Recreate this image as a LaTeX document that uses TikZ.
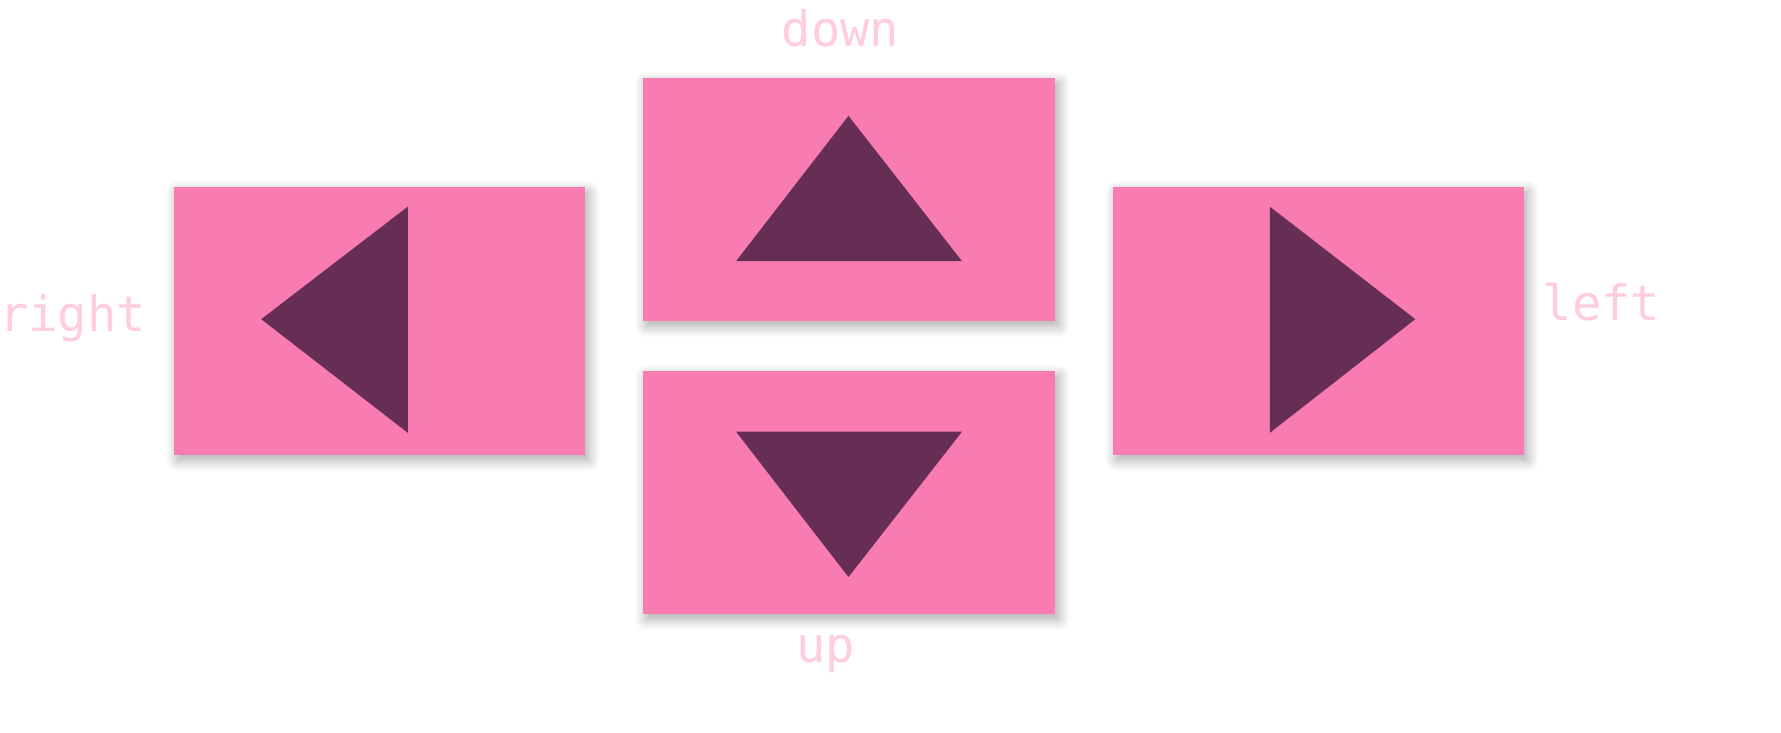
\documentclass[tikz,border=0pt]{standalone}
\usepackage{fontspec}
\setmonofont{DejaVu Sans Mono}
\usetikzlibrary{shadows.blur}
\definecolor{boxpink}{HTML}{F87BB2}
\definecolor{tripurple}{HTML}{672E55}
\definecolor{labelpink}{HTML}{FFCCE0}
\tikzset{
  padbox/.style={fill=boxpink, draw=none, inner sep=0pt,
    blur shadow={shadow xshift=3pt, shadow yshift=-4pt, shadow blur radius=10pt, shadow blur steps=12, shadow opacity=35}},
  arrowtri/.style={fill=tripurple, draw=none},
  padlabel/.style={text=labelpink, font=\fontsize{43}{43}\selectfont\ttfamily, inner sep=0pt, anchor=base}
}
\begin{document}
\begin{tikzpicture}[x=1pt,y=-1pt]
\useasboundingbox (0,0) rectangle (1568,644.5);
% boxes
\path[padbox] (153,165) rectangle (515,401);
\path[padbox] (566,69) rectangle (929,283);
\path[padbox] (566,327) rectangle (929,541);
\path[padbox] (980,165) rectangle (1342,401);
% triangles
\fill[arrowtri] (230,281) -- (359,182) -- (359,381) -- cycle;
\fill[arrowtri] (747,102) -- (648,230) -- (847,230) -- cycle;
\fill[arrowtri] (648,380) -- (847,380) -- (747,508) -- cycle;
\fill[arrowtri] (1118,182) -- (1118,381) -- (1246,281) -- cycle;
% labels
\node[padlabel] (rlab) at (64,292) {right};
\node[padlabel] (dlab) at (740,41) {down};
\node[padlabel] (ulab) at (727,583) {up};
\node[padlabel] (llab) at (1410,282) {left};
\end{tikzpicture}
\end{document}
